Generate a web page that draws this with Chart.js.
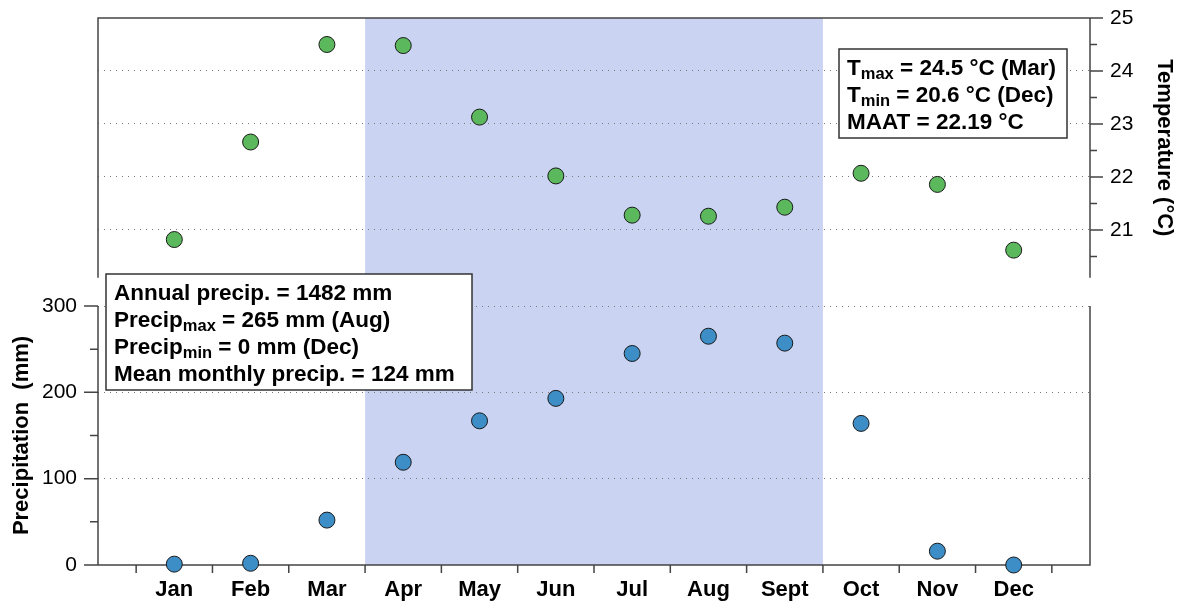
<!DOCTYPE html>
<html lang="en">
<head>
    <meta charset="UTF-8">
    <title>Monthly temperature and precipitation</title>
    <script src="https://cdn.jsdelivr.net/npm/chart.js@4.4.1/dist/chart.umd.min.js"></script>
    <style>
        html, body { margin: 0; padding: 0; background: #fff; }
        canvas { display: block; }
    </style>
</head>
<body>
    <canvas id="climateChart" width="1181" height="603"></canvas>
    <script>
        const months = ['Jan', 'Feb', 'Mar', 'Apr', 'May', 'Jun', 'Jul', 'Aug', 'Sept', 'Oct', 'Nov', 'Dec'];
        const temperature = [20.82, 22.66, 24.50, 24.48, 23.13, 22.02, 21.28, 21.26, 21.43, 22.07, 21.86, 20.62];
        const precipitation = [1, 2, 52, 119, 167, 193, 245, 265, 257, 164, 16, 0];
        const tempTicks = [21, 22, 23, 24, 25];
        const precipTicks = [0, 100, 200, 300];
        const wetSeason = ['Apr', 'Sept'];

        // [text, subscript, text after subscript]
        const tempNotes = [
            ['T', 'max', ' = 24.5 °C (Mar)'],
            ['T', 'min', ' = 20.6 °C (Dec)'],
            ['MAAT = 22.19 °C', '', '']
        ];
        const precipNotes = [
            ['Annual precip. = 1482 mm', '', ''],
            ['Precip', 'max', ' = 265 mm (Aug)'],
            ['Precip', 'min', ' = 0 mm (Dec)'],
            ['Mean monthly precip. = 124 mm', '', '']
        ];

        const FONT = "'Liberation Sans', Arial, Helvetica, sans-serif";
        const AXIS_COLOR = '#444';
        const GRID_COLOR = '#7a7a7a';

        function drawNotes(ctx, lines, box, textX, firstBaseline, step) {
            ctx.save();
            ctx.fillStyle = '#fff';
            ctx.fillRect(box.x, box.y, box.w, box.h);
            ctx.strokeStyle = '#333';
            ctx.lineWidth = 1.5;
            ctx.strokeRect(box.x, box.y, box.w, box.h);
            ctx.fillStyle = '#000';
            ctx.textAlign = 'left';
            ctx.textBaseline = 'alphabetic';
            lines.forEach((parts, i) => {
                const y = firstBaseline + i * step;
                let x = textX;
                ctx.font = `bold 22.5px ${FONT}`;
                ctx.fillText(parts[0], x, y);
                x += ctx.measureText(parts[0]).width;
                if (parts[1]) {
                    ctx.font = `bold 16.5px ${FONT}`;
                    ctx.fillText(parts[1], x, y + 4);
                    x += ctx.measureText(parts[1]).width;
                }
                if (parts[2]) {
                    ctx.font = `bold 22.5px ${FONT}`;
                    ctx.fillText(parts[2], x, y);
                }
            });
            ctx.restore();
        }

        // y axes: fixed width and no label overhang padding, so the plot area stays put
        function fixYScale(width) {
            return s => {
                s.width = width;
                s.paddingTop = 0;
                s.paddingBottom = 0;
            };
        }

        const decorations = {
            id: 'decorations',
            beforeDraw(chart) {
                const { ctx, chartArea: a, scales: { x } } = chart;
                const x0 = x.getPixelForValue(months.indexOf(wetSeason[0]) + 0.5);
                const x1 = x.getPixelForValue(months.indexOf(wetSeason[1]) + 1.5);
                ctx.save();
                ctx.fillStyle = '#cad3f2';
                ctx.fillRect(x0, a.top, x1 - x0, a.bottom - a.top);
                ctx.restore();
            },
            beforeDatasetsDraw(chart) {
                const { ctx, chartArea: a, scales: { x, yT, yP } } = chart;
                const tBottom = yT.getPixelForValue(20.1);
                const pTop = yP.getPixelForValue(300);
                ctx.save();
                ctx.strokeStyle = AXIS_COLOR;
                ctx.lineWidth = 1.5;
                ctx.beginPath();
                // upper (temperature) panel
                ctx.moveTo(a.left, tBottom);
                ctx.lineTo(a.left, a.top);
                ctx.lineTo(a.right, a.top);
                ctx.lineTo(a.right, tBottom);
                // lower (precipitation) panel
                ctx.moveTo(a.left, pTop);
                ctx.lineTo(a.left, a.bottom);
                ctx.lineTo(a.right, a.bottom);
                ctx.lineTo(a.right, pTop);
                // temperature ticks
                for (let v = 20.5; v <= 25; v += 0.5) {
                    const y = yT.getPixelForValue(v);
                    ctx.moveTo(a.right, y);
                    ctx.lineTo(a.right + (v % 1 === 0 ? 13 : 7), y);
                }
                // precipitation ticks
                for (let v = 0; v <= 300; v += 50) {
                    const y = yP.getPixelForValue(v);
                    ctx.moveTo(a.left, y);
                    ctx.lineTo(a.left - (v % 100 === 0 ? 14 : 8), y);
                }
                // month boundary ticks
                for (let m = 0.5; m <= 12.5; m += 1) {
                    const px = x.getPixelForValue(m);
                    ctx.moveTo(px, a.bottom);
                    ctx.lineTo(px, a.bottom + 8);
                }
                ctx.stroke();
                ctx.restore();
            },
            afterDraw(chart) {
                const { ctx, chartArea: a, scales: { yT, yP } } = chart;
                const tBottom = yT.getPixelForValue(20.1);
                const pTop = yP.getPixelForValue(300);

                ctx.save();
                ctx.font = `bold 22px ${FONT}`;
                ctx.fillStyle = '#000';
                ctx.textAlign = 'center';
                ctx.textBaseline = 'middle';
                ctx.translate(1164, (a.top + tBottom) / 2);
                ctx.rotate(Math.PI / 2);
                ctx.fillText('Temperature (°C)', 0, 0);
                ctx.restore();

                ctx.save();
                ctx.font = `bold 22px ${FONT}`;
                ctx.fillStyle = '#000';
                ctx.textAlign = 'center';
                ctx.textBaseline = 'middle';
                ctx.translate(22, (pTop + a.bottom) / 2);
                ctx.rotate(-Math.PI / 2);
                ctx.fillText('Precipitation  (mm)', 0, 0);
                ctx.restore();

                drawNotes(ctx, tempNotes, { x: 839, y: 49, w: 228, h: 89 }, 847, 74.5, 27.3);
                drawNotes(ctx, precipNotes, { x: 106, y: 274, w: 366, h: 116 }, 114, 299.5, 27.2);
            }
        };

        const tempPoints = months.map((m, i) => ({ x: i + 1, y: temperature[i] }));
        const precipPoints = months.map((m, i) => ({ x: i + 1, y: precipitation[i] }));

        new Chart(document.getElementById('climateChart'), {
            type: 'scatter',
            data: {
                datasets: [
                    {
                        label: 'Temperature',
                        data: tempPoints,
                        yAxisID: 'yT',
                        backgroundColor: '#5cb85c',
                        borderColor: '#1a1a1a',
                        borderWidth: 1,
                        pointRadius: 8,
                        clip: false
                    },
                    {
                        label: 'Precipitation',
                        data: precipPoints,
                        yAxisID: 'yP',
                        backgroundColor: '#3d8dc6',
                        borderColor: '#1a1a1a',
                        borderWidth: 1,
                        pointRadius: 8,
                        clip: false
                    }
                ]
            },
            options: {
                responsive: false,
                animation: false,
                devicePixelRatio: 1,
                layout: { padding: { top: 18 } },
                plugins: {
                    legend: { display: false },
                    tooltip: { enabled: false }
                },
                scales: {
                    x: {
                        type: 'linear',
                        position: 'bottom',
                        min: 0,
                        max: 13,
                        afterBuildTicks: s => { s.ticks = months.map((m, i) => ({ value: i + 1 })); },
                        afterFit: s => { s.height = 38; s.paddingLeft = 0; s.paddingRight = 0; },
                        grid: { display: false, drawTicks: false },
                        border: { display: false },
                        ticks: {
                            padding: 12,
                            color: '#000',
                            font: { family: FONT, size: 22, weight: 'bold' },
                            callback: v => months[v - 1]
                        }
                    },
                    yP: {
                        type: 'linear',
                        position: 'left',
                        min: 0,
                        max: 633.6,
                        afterBuildTicks: s => { s.ticks = precipTicks.map(v => ({ value: v })); },
                        afterFit: fixYScale(98),
                        grid: {
                            drawTicks: false,
                            lineWidth: 1,
                            color: c => (c.tick && c.tick.value > 0 ? GRID_COLOR : 'rgba(0,0,0,0)')
                        },
                        border: { display: false, dash: [1, 5] },
                        ticks: {
                            padding: 21,
                            color: '#000',
                            font: { family: FONT, size: 21 }
                        }
                    },
                    yT: {
                        type: 'linear',
                        position: 'right',
                        min: 14.679,
                        max: 25,
                        afterBuildTicks: s => { s.ticks = tempTicks.map(v => ({ value: v })); },
                        afterFit: fixYScale(91),
                        grid: {
                            drawTicks: false,
                            lineWidth: 1,
                            color: c => (c.tick && c.tick.value < 25 ? GRID_COLOR : 'rgba(0,0,0,0)')
                        },
                        border: { display: false, dash: [1, 5] },
                        ticks: {
                            padding: 20,
                            color: '#000',
                            font: { family: FONT, size: 21 }
                        }
                    }
                }
            },
            plugins: [decorations]
        });
    </script>
</body>
</html>
